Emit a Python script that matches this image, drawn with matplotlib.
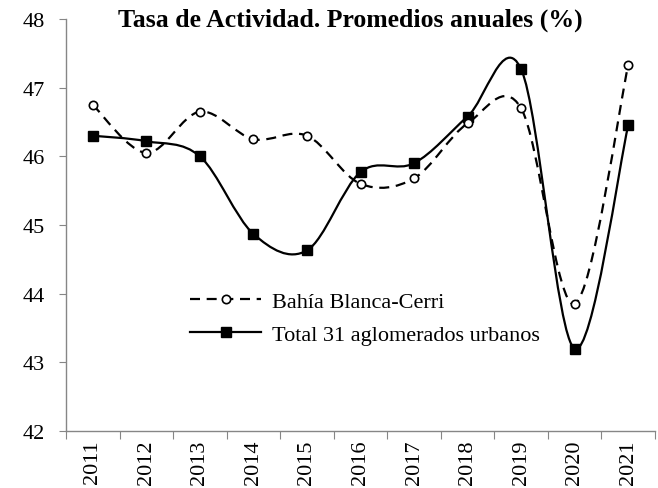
import numpy as np
import matplotlib.pyplot as plt
from matplotlib.path import Path
from matplotlib.patches import PathPatch
from matplotlib.lines import Line2D

plt.rcParams['font.family'] = ['Liberation Serif', 'DejaVu Serif']

years = ['2011', '2012', '2013', '2014', '2015', '2016', '2017', '2018', '2019', '2020', '2021']
bahia = [46.75, 46.05, 46.65, 46.25, 46.30, 45.60, 45.68, 46.48, 46.70, 43.85, 47.33]
total = [46.30, 46.22, 46.00, 44.87, 44.63, 45.77, 45.90, 46.58, 47.27, 43.20, 46.45]

title = 'Tasa de Actividad. Promedios anuales (%)'
lbl_bahia = 'Bahía Blanca-Cerri'
lbl_total = 'Total 31 aglomerados urbanos'


def smooth_path(xs, ys):
    # curva tipo Excel "línea suavizada" (Bezier cúbica, Catmull-Rom)
    pts = np.column_stack([xs, ys]).astype(float)
    n = len(pts)
    verts = [pts[0]]
    codes = [Path.MOVETO]
    for i in range(n - 1):
        p0 = pts[max(i - 1, 0)]
        p1 = pts[i]
        p2 = pts[i + 1]
        p3 = pts[min(i + 2, n - 1)]
        c1 = p1 + (p2 - p0) / 6
        c2 = p2 - (p3 - p1) / 6
        verts += [c1, c2, p2]
        codes += [Path.CURVE4] * 3
    return Path(verts, codes)


fig = plt.figure(figsize=(6.58, 4.89), dpi=100)
ax = fig.add_axes([66 / 658, 1 - 432 / 489, (655 - 66) / 658, (432 - 20) / 489])

x = np.arange(len(years))

ax.add_patch(PathPatch(smooth_path(x, bahia), fill=False, edgecolor='black',
                       lw=1.6, linestyle=(0, (4.5, 3)), zorder=2))
ax.add_patch(PathPatch(smooth_path(x, total), fill=False, edgecolor='black',
                       lw=1.6, zorder=2))
ax.plot(x, bahia, linestyle='none', marker='o', ms=6, mfc='white', mec='black',
        mew=1.2, zorder=4)
ax.plot(x, total, linestyle='none', marker='s', ms=7, mfc='black', mec='black', zorder=3)

ax.set_xlim(-0.5, len(years) - 0.5)
ax.set_ylim(42, 48)
ax.set_yticks(np.arange(42, 49, 1))
ax.set_xticks(np.arange(-0.5, len(years), 1))
ax.set_xticklabels([])
ax.set_xticks(x, minor=True)
ax.set_xticklabels(years, minor=True, rotation=90)

for s in ['top', 'right']:
    ax.spines[s].set_visible(False)
for s in ['left', 'bottom']:
    ax.spines[s].set_color('#868686')
    ax.spines[s].set_linewidth(1.0)

ax.tick_params(axis='y', which='major', direction='out', length=5, color='#868686',
               labelsize=16, pad=10)
ax.tick_params(axis='x', which='major', direction='out', length=6, color='#868686')
ax.tick_params(axis='x', which='minor', length=0, labelsize=16, pad=6)

fig.text(350 / 658, 1 - 20 / 489, title, ha='center', va='center',
         fontsize=18.5, fontweight='bold')

handles = [
    Line2D([], [], color='black', lw=1.6, linestyle=(0, (4.5, 3)), marker='o', ms=6,
           mfc='white', mec='black', mew=1.2),
    Line2D([], [], color='black', lw=1.6, marker='s', ms=7, mfc='black'),
]
ax.legend(handles, [lbl_bahia, lbl_total], loc='center left',
          bbox_to_anchor=(190 / 658, 1 - 319 / 489), bbox_transform=fig.transFigure,
          frameon=False, fontsize=16, handlelength=3.2, handletextpad=0.5,
          labelspacing=0.55, borderaxespad=0, borderpad=0)

fig.savefig('out.png', dpi=100)
